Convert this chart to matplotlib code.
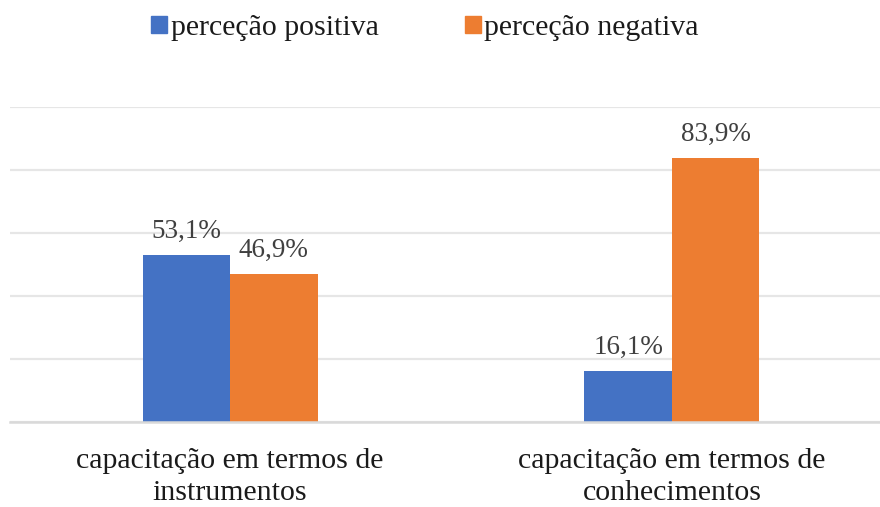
import matplotlib
matplotlib.use("Agg")
import matplotlib.pyplot as plt
from matplotlib.patches import Patch
import numpy as np

categories = ["capacitação em termos de\ninstrumentos", "capacitação em termos de\nconhecimentos"]
series_names = ["perceção positiva", "perceção negativa"]
positiva = [53.1, 16.1]
negativa = [46.9, 83.9]
colors = ["#4472C4", "#ED7D31"]
text_color = "#404040"

plt.rcParams['font.family'] = ['Liberation Serif', 'DejaVu Serif']

fig = plt.figure(figsize=(8.8, 5.07), dpi=100)
ax = fig.add_axes([10/880, (507-422)/507, 870/880, (422-107)/507])

x = np.arange(len(categories))
w = 0.198
b1 = ax.bar(x - w/2, positiva, width=w, color=colors[0], zorder=3)
b2 = ax.bar(x + w/2, negativa, width=w, color=colors[1], zorder=3)

for bars, vals in ((b1, positiva), (b2, negativa)):
    for r, v in zip(bars, vals):
        ax.annotate(f"{v:.1f}%".replace(".", ","),
                    (r.get_x() + r.get_width()/2, v),
                    xytext=(0, 8), textcoords="offset points",
                    ha="center", va="bottom", fontsize=19.5, color=text_color)

ax.set_ylim(0, 100)
ax.set_xlim(-0.498, 1.471)
ax.set_yticks([0, 20, 40, 60, 80, 100])
ax.yaxis.grid(True, color="#e6e6e6", linewidth=1.6, zorder=0)
ax.tick_params(axis="y", left=False, labelleft=False)
ax.set_xticks(x)
ax.set_xticklabels(categories, fontsize=21.5, color="#1a1a1a", linespacing=1.3)
ax.tick_params(axis="x", bottom=False, pad=15)
for s in ["top", "right", "left"]:
    ax.spines[s].set_visible(False)
ax.spines["bottom"].set_color("#d9d9d9")
ax.spines["bottom"].set_linewidth(1.8)
ax.spines["bottom"].set_zorder(4)

handles = [Patch(color=c) for c in colors]
fig.legend(handles, series_names, loc="center", bbox_to_anchor=(425/880, 1 - 28/507),
           ncol=2, frameon=False, fontsize=21.5, handlelength=0.52, handleheight=0.52,
           handletextpad=0.12, columnspacing=2.9, labelcolor="#1a1a1a")

fig.savefig("out.png", dpi=100)
